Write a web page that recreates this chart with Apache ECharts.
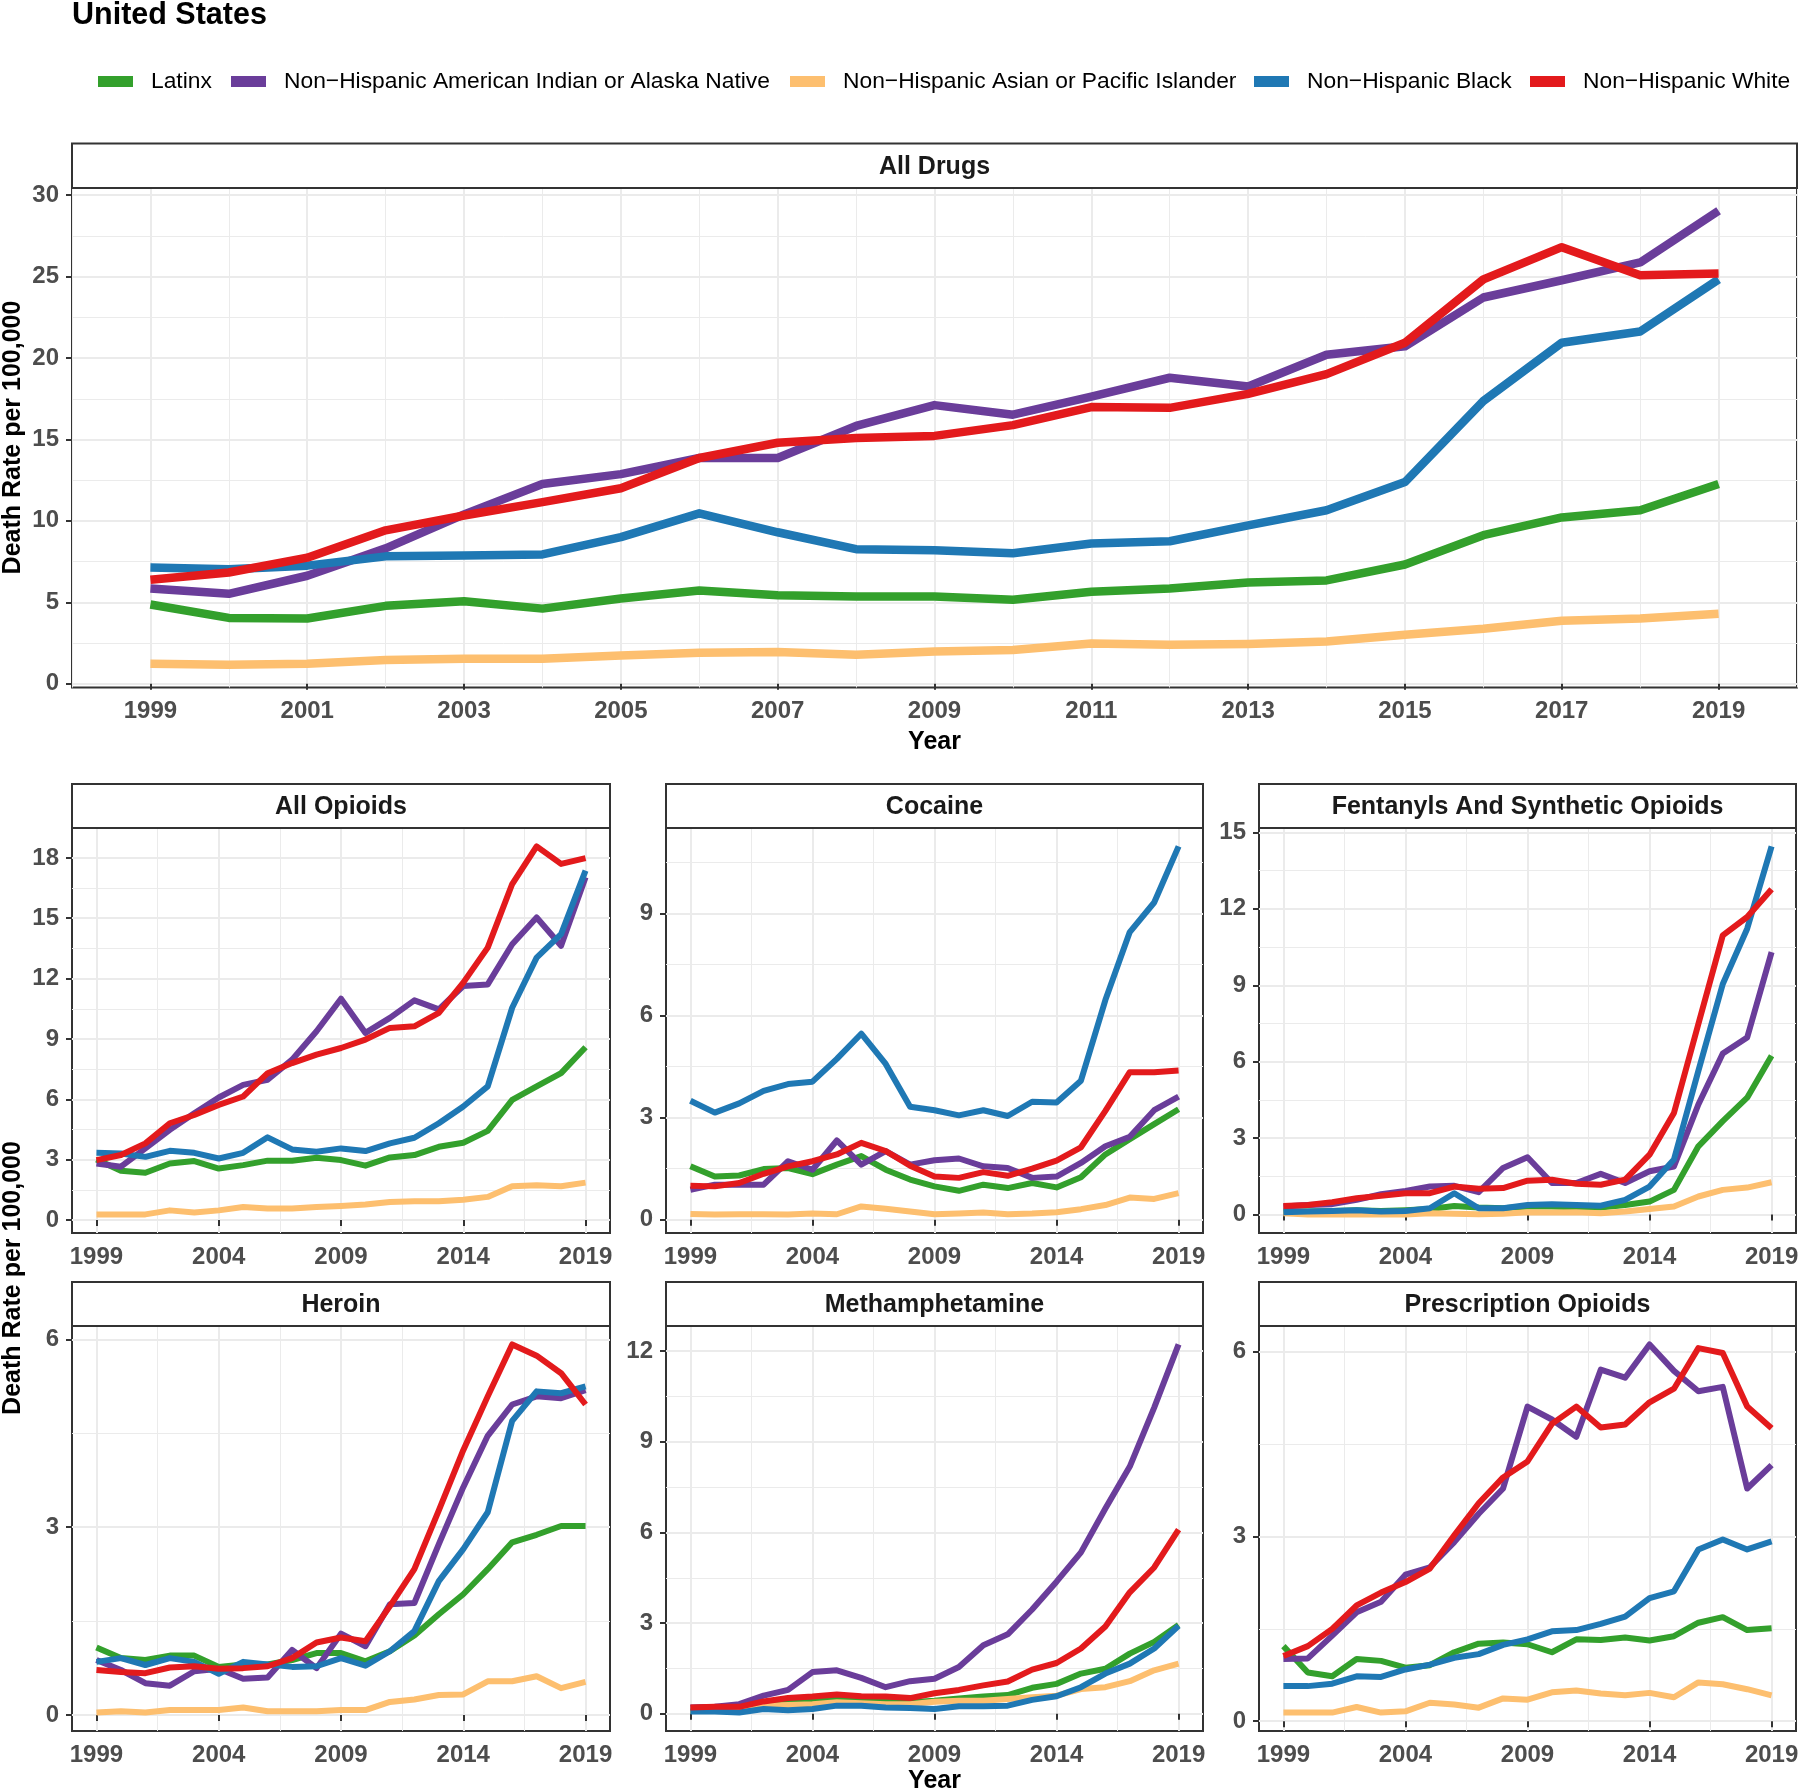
<!DOCTYPE html>
<html>
<head>
<meta charset="utf-8">
<script src="https://cdn.jsdelivr.net/npm/echarts@6/dist/echarts.min.js"></script>
<style>
html,body{margin:0;padding:0;background:#fff;}
#chart{width:1800px;height:1792px;}
</style>
</head>
<body>
<div id="chart"></div>
<script>
// ---------------- DATA ----------------
const years = [1999,2000,2001,2002,2003,2004,2005,2006,2007,2008,2009,2010,2011,2012,2013,2014,2015,2016,2017,2018,2019];
const groups = ['Latinx','Non\u2212Hispanic American Indian or Alaska Native','Non\u2212Hispanic Asian or Pacific Islander','Non\u2212Hispanic Black','Non\u2212Hispanic White'];

const allDrugsLatinx = [4.86,4.04,4.00,4.78,5.06,4.61,5.23,5.72,5.43,5.35,5.35,5.15,5.65,5.84,6.21,6.34,7.32,9.12,10.21,10.65,12.26];
const allDrugsAIAN   = [5.84,5.52,6.63,8.31,10.40,12.26,12.87,13.86,13.86,15.83,17.11,16.52,17.63,18.79,18.25,20.20,20.72,23.72,24.78,25.87,29.05];
const allDrugsAsian  = [1.23,1.16,1.23,1.46,1.53,1.53,1.73,1.90,1.95,1.78,1.97,2.07,2.47,2.39,2.44,2.59,3.01,3.38,3.87,4.00,4.29];
const allDrugsBlack  = [7.13,7.03,7.25,7.82,7.87,7.94,9.00,10.46,9.30,8.26,8.19,8.01,8.61,8.75,9.72,10.65,12.38,17.36,20.94,21.63,24.83];
const allDrugsWhite  = [6.39,6.83,7.74,9.42,10.33,11.15,12.00,13.86,14.80,15.09,15.22,15.88,16.99,16.94,17.80,19.01,20.94,24.83,26.81,25.08,25.20];

const opioidsLatinx = [3.01,2.45,2.35,2.81,2.93,2.56,2.73,2.95,2.95,3.09,2.98,2.70,3.11,3.23,3.64,3.84,4.43,5.97,6.64,7.30,8.59];
const opioidsAIAN   = [2.81,2.65,3.56,4.48,5.31,6.09,6.72,6.97,7.97,9.38,11.00,9.30,10.05,10.92,10.47,11.63,11.71,13.71,15.04,13.63,17.04];
const opioidsAsian  = [0.27,0.28,0.28,0.48,0.37,0.48,0.65,0.57,0.57,0.65,0.70,0.77,0.90,0.93,0.93,1.01,1.15,1.68,1.73,1.68,1.86];
const opioidsBlack  = [3.34,3.31,3.14,3.44,3.34,3.06,3.34,4.11,3.51,3.39,3.56,3.43,3.81,4.09,4.81,5.64,6.64,10.55,13.04,14.21,17.37];
const opioidsWhite  = [2.98,3.23,3.81,4.81,5.22,5.72,6.14,7.30,7.80,8.22,8.55,8.97,9.55,9.63,10.30,11.80,13.54,16.70,18.57,17.70,17.99];

const cocaineLatinx = [1.57,1.27,1.30,1.49,1.52,1.34,1.62,1.87,1.47,1.18,0.98,0.85,1.03,0.93,1.08,0.95,1.25,1.92,2.37,2.81,3.25];
const cocaineAIAN   = [0.88,1.03,1.03,1.03,1.72,1.47,2.33,1.62,2.02,1.62,1.75,1.80,1.57,1.52,1.23,1.27,1.67,2.16,2.44,3.22,3.62];
const cocaineAsian  = [0.17,0.15,0.16,0.16,0.15,0.18,0.16,0.39,0.32,0.24,0.16,0.18,0.21,0.16,0.18,0.22,0.31,0.43,0.65,0.61,0.78];
const cocaineBlack  = [3.50,3.15,3.42,3.79,3.99,4.06,4.73,5.47,4.58,3.32,3.22,3.07,3.22,3.05,3.47,3.45,4.09,6.46,8.46,9.33,10.98];
const cocaineWhite  = [1.00,0.98,1.08,1.35,1.57,1.72,1.92,2.26,2.02,1.59,1.27,1.23,1.40,1.29,1.50,1.74,2.13,3.20,4.34,4.34,4.39];

const fentanylLatinx = [0.12,0.12,0.14,0.17,0.14,0.17,0.22,0.34,0.28,0.25,0.32,0.32,0.28,0.28,0.38,0.51,0.97,2.68,3.67,4.59,6.23];
const fentanylAIAN   = [0.32,0.38,0.41,0.58,0.80,0.93,1.10,1.13,0.88,1.83,2.25,1.24,1.24,1.60,1.24,1.70,1.89,4.32,6.32,6.95,10.30];
const fentanylAsian  = [0.05,0.00,0.00,0.00,0.00,0.00,0.05,0.03,0.01,0.03,0.09,0.08,0.09,0.05,0.12,0.22,0.32,0.71,0.97,1.06,1.27];
const fentanylBlack  = [0.09,0.12,0.14,0.17,0.12,0.14,0.25,0.84,0.25,0.25,0.38,0.41,0.38,0.35,0.58,1.10,2.16,5.64,9.05,11.22,14.45];
const fentanylWhite  = [0.34,0.38,0.49,0.64,0.74,0.84,0.84,1.10,1.01,1.04,1.33,1.37,1.21,1.17,1.37,2.35,3.99,7.48,10.96,11.68,12.77];

const heroinLatinx = [1.08,0.91,0.88,0.95,0.95,0.77,0.81,0.81,0.88,0.99,0.99,0.86,1.02,1.27,1.61,1.93,2.33,2.76,2.88,3.02,3.02];
const heroinAIAN   = [0.88,0.72,0.51,0.47,0.70,0.74,0.58,0.60,1.04,0.75,1.30,1.10,1.77,1.79,2.73,3.64,4.46,4.96,5.09,5.06,5.19];
const heroinAsian  = [0.04,0.06,0.04,0.08,0.08,0.08,0.12,0.06,0.06,0.06,0.08,0.08,0.21,0.25,0.32,0.33,0.54,0.54,0.62,0.43,0.53];
const heroinBlack  = [0.85,0.91,0.80,0.91,0.85,0.66,0.85,0.81,0.77,0.78,0.91,0.79,1.02,1.34,2.14,2.65,3.24,4.70,5.17,5.14,5.25];
const heroinWhite  = [0.72,0.69,0.67,0.76,0.78,0.74,0.75,0.78,0.91,1.16,1.24,1.18,1.74,2.33,3.27,4.23,5.09,5.92,5.74,5.46,4.96];

const methLatinx = [0.10,0.12,0.12,0.32,0.40,0.41,0.49,0.43,0.41,0.38,0.43,0.51,0.57,0.62,0.86,0.99,1.33,1.49,1.99,2.38,2.94];
const methAIAN   = [0.21,0.23,0.32,0.60,0.79,1.38,1.44,1.19,0.88,1.08,1.16,1.55,2.27,2.63,3.45,4.37,5.34,6.79,8.18,10.13,12.22];
const methAsian  = [0.12,0.12,0.12,0.27,0.29,0.32,0.38,0.35,0.32,0.32,0.40,0.43,0.43,0.49,0.55,0.60,0.82,0.88,1.08,1.44,1.66];
const methBlack  = [0.08,0.08,0.04,0.16,0.12,0.16,0.27,0.27,0.21,0.19,0.16,0.25,0.25,0.27,0.46,0.58,0.88,1.33,1.66,2.16,2.91];
const methWhite  = [0.21,0.23,0.23,0.41,0.52,0.57,0.64,0.58,0.57,0.52,0.68,0.79,0.94,1.07,1.46,1.68,2.16,2.89,4.02,4.84,6.09];

const rxLatinx = [1.22,0.79,0.73,1.01,0.98,0.87,0.91,1.12,1.26,1.28,1.25,1.12,1.33,1.32,1.36,1.31,1.38,1.60,1.69,1.48,1.51];
const rxAIAN   = [1.01,1.02,1.39,1.77,1.94,2.38,2.50,2.91,3.37,3.78,5.11,4.90,4.62,5.71,5.58,6.12,5.69,5.36,5.43,3.78,4.16];
const rxAsian  = [0.14,0.14,0.14,0.23,0.14,0.16,0.30,0.27,0.22,0.37,0.35,0.47,0.50,0.45,0.42,0.46,0.39,0.63,0.60,0.52,0.42];
const rxBlack  = [0.57,0.57,0.61,0.73,0.72,0.84,0.92,1.03,1.09,1.24,1.33,1.46,1.48,1.58,1.70,2.00,2.11,2.79,2.95,2.79,2.92];
const rxWhite  = [1.06,1.22,1.50,1.88,2.09,2.26,2.48,3.02,3.54,3.96,4.22,4.83,5.11,4.77,4.82,5.18,5.40,6.06,5.98,5.11,4.76];

// tick labels / breaks
const topXTicks   = [1999,2001,2003,2005,2007,2009,2011,2013,2015,2017,2019];
const topXMinor   = [1998,2000,2002,2004,2006,2008,2010,2012,2014,2016,2018,2020];
const smallXTicks = [1999,2004,2009,2014,2019];
const smallXMinor = [2001.5,2006.5,2011.5,2016.5];
const allDrugsYTicks = [0,5,10,15,20,25,30];
const allDrugsYMinor = [2.5,7.5,12.5,17.5,22.5,27.5];
const opioidsYTicks  = [0,3,6,9,12,15,18];
const opioidsYMinor  = [1.5,4.5,7.5,10.5,13.5,16.5];
const cocaineYTicks  = [0,3,6,9];
const cocaineYMinor  = [1.5,4.5,7.5,10.5];
const fentanylYTicks = [0,3,6,9,12,15];
const fentanylYMinor = [1.5,4.5,7.5,10.5,13.5];
const heroinYTicks   = [0,3,6];
const heroinYMinor   = [1.5,4.5];
const methYTicks     = [0,3,6,9,12];
const methYMinor     = [1.5,4.5,7.5,10.5];
const rxYTicks       = [0,3,6];
const rxYMinor       = [1.5,4.5];

// ---------------- STYLE / LAYOUT ----------------
const colors = ['#33a02c','#6a3d9a','#fdbf6f','#1f78b4','#e31a1c'];
const FONT = "'Liberation Sans', Arial, Helvetica, sans-serif";
const col = [{l:72,w:538},{l:666,w:537},{l:1259,w:537}];
const row = [{t:828,h:405,st:784},{t:1326,h:405,st:1282}];

const panels = [
  {title:'All Drugs', series:[allDrugsLatinx,allDrugsAIAN,allDrugsAsian,allDrugsBlack,allDrugsWhite], yT:allDrugsYTicks, yM:allDrugsYMinor, xT:topXTicks, xM:topXMinor,
   left:72, top:188, width:1725, height:499.5, stripTop:143.5, lw:8.5},
  {title:'All Opioids', series:[opioidsLatinx,opioidsAIAN,opioidsAsian,opioidsBlack,opioidsWhite], yT:opioidsYTicks, yM:opioidsYMinor, xT:smallXTicks, xM:smallXMinor,
   left:col[0].l, top:row[0].t, width:col[0].w, height:row[0].h, stripTop:row[0].st, lw:6},
  {title:'Cocaine', series:[cocaineLatinx,cocaineAIAN,cocaineAsian,cocaineBlack,cocaineWhite], yT:cocaineYTicks, yM:cocaineYMinor, xT:smallXTicks, xM:smallXMinor,
   left:col[1].l, top:row[0].t, width:col[1].w, height:row[0].h, stripTop:row[0].st, lw:6},
  {title:'Fentanyls And Synthetic Opioids', series:[fentanylLatinx,fentanylAIAN,fentanylAsian,fentanylBlack,fentanylWhite], yT:fentanylYTicks, yM:fentanylYMinor, xT:smallXTicks, xM:smallXMinor,
   left:col[2].l, top:row[0].t, width:col[2].w, height:row[0].h, stripTop:row[0].st, lw:6},
  {title:'Heroin', series:[heroinLatinx,heroinAIAN,heroinAsian,heroinBlack,heroinWhite], yT:heroinYTicks, yM:heroinYMinor, xT:smallXTicks, xM:smallXMinor,
   left:col[0].l, top:row[1].t, width:col[0].w, height:row[1].h, stripTop:row[1].st, lw:6},
  {title:'Methamphetamine', series:[methLatinx,methAIAN,methAsian,methBlack,methWhite], yT:methYTicks, yM:methYMinor, xT:smallXTicks, xM:smallXMinor,
   left:col[1].l, top:row[1].t, width:col[1].w, height:row[1].h, stripTop:row[1].st, lw:6},
  {title:'Prescription Opioids', series:[rxLatinx,rxAIAN,rxAsian,rxBlack,rxWhite], yT:rxYTicks, yM:rxYMinor, xT:smallXTicks, xM:smallXMinor,
   left:col[2].l, top:row[1].t, width:col[2].w, height:row[1].h, stripTop:row[1].st, lw:6}
];

function expandLimits(values){
  let lo = Infinity, hi = -Infinity;
  values.forEach(v => { if (v < lo) lo = v; if (v > hi) hi = v; });
  const pad = 0.05 * (hi - lo);
  return [lo - pad, hi + pad];
}

const xLim = expandLimits(years);
const grids = [], xAxes = [], yAxes = [], series = [], graphics = [];
const labelStyle = {fontFamily:FONT, fontSize:24, fontWeight:'bold', color:'#4d4d4d'};

panels.forEach((p, i) => {
  const yLim = expandLimits([].concat(...p.series));
  grids.push({left:p.left, top:p.top, width:p.width, height:p.height, show:true, borderColor:'#333333', borderWidth:2, backgroundColor:'rgba(0,0,0,0)', containLabel:false, outerBoundsMode:'none'});
  // minor x gridlines
  xAxes.push({type:'value', gridIndex:i, min:xLim[0], max:xLim[1], position:'top',
    axisLine:{show:false}, axisTick:{show:false, customValues:p.xM}, axisLabel:{show:false, customValues:p.xM},
    splitLine:{show:true, lineStyle:{color:'#ebebeb', width:1}}, z:1});
  // major x
  xAxes.push({type:'value', gridIndex:i, min:xLim[0], max:xLim[1], position:'bottom',
    axisLine:{show:false}, axisTick:{show:true, customValues:p.xT, length:6, lineStyle:{color:'#333333', width:2}},
    axisLabel:Object.assign({customValues:p.xT, margin:12, formatter:v => String(v)}, labelStyle),
    splitLine:{show:true, lineStyle:{color:'#ebebeb', width:2}}, z:2});
  // minor y gridlines
  yAxes.push({type:'value', gridIndex:i, min:yLim[0], max:yLim[1], position:'right',
    axisLine:{show:false}, axisTick:{show:false, customValues:p.yM}, axisLabel:{show:false, customValues:p.yM},
    splitLine:{show:true, lineStyle:{color:'#ebebeb', width:1}}, z:1});
  // major y
  yAxes.push({type:'value', gridIndex:i, min:yLim[0], max:yLim[1], position:'left',
    axisLine:{show:false}, axisTick:{show:true, customValues:p.yT, length:6, lineStyle:{color:'#333333', width:2}},
    axisLabel:Object.assign({customValues:p.yT, margin:13, formatter:v => String(v)}, labelStyle),
    splitLine:{show:true, lineStyle:{color:'#ebebeb', width:2}}, z:2});

  p.series.forEach((arr, g) => {
    series.push({type:'line', name:groups[g], xAxisIndex:2*i+1, yAxisIndex:2*i+1,
      data: years.map((yr, k) => [yr, arr[k]]),
      showSymbol:false, symbol:'none', silent:true, animation:false,
      emphasis:{disabled:true},
      lineStyle:{width:p.lw, color:colors[g], cap:'butt', join:'round'},
      itemStyle:{color:colors[g]}, z:3 + g});
  });

  // facet strip
  graphics.push({type:'rect', shape:{x:p.left, y:p.stripTop, width:p.width, height:p.top - p.stripTop},
    style:{fill:'#ffffff', stroke:'#333333', lineWidth:2}, z:10});
  graphics.push({type:'text', x:p.left + p.width/2, y:(p.stripTop + p.top)/2 + 1,
    style:{text:p.title, fontFamily:FONT, fontSize:25, fontWeight:'bold', fill:'#1a1a1a', textAlign:'center', textVerticalAlign:'middle'}, z:11});
});

// axis titles
graphics.push({type:'text', x:13, y:437.5, rotation:Math.PI/2,
  style:{text:'Death Rate per 100,000', fontFamily:FONT, fontSize:25, fontWeight:'bold', fill:'#000', textAlign:'center', textVerticalAlign:'middle'}, z:11});
graphics.push({type:'text', x:13, y:1278, rotation:Math.PI/2,
  style:{text:'Death Rate per 100,000', fontFamily:FONT, fontSize:25, fontWeight:'bold', fill:'#000', textAlign:'center', textVerticalAlign:'middle'}, z:11});
graphics.push({type:'text', x:934.5, y:742,
  style:{text:'Year', fontFamily:FONT, fontSize:25, fontWeight:'bold', fill:'#000', textAlign:'center', textVerticalAlign:'middle'}, z:11});
graphics.push({type:'text', x:934.5, y:1781,
  style:{text:'Year', fontFamily:FONT, fontSize:25, fontWeight:'bold', fill:'#000', textAlign:'center', textVerticalAlign:'middle'}, z:11});

const legendLefts = [98, 231, 790, 1254, 1530];
const legends = groups.map((g, k) => ({
  data:[g], left:legendLefts[k], top:70, orient:'horizontal', padding:0, itemGap:0,
  itemWidth:35, itemHeight:11, icon:'rect', selectedMode:false,
  textStyle:{fontFamily:FONT, fontSize:22.8, color:'#000', padding:[0,0,0,13]}
}));

const chart = echarts.init(document.getElementById('chart'), null, {renderer:'canvas'});
chart.setOption({
  animation:false,
  backgroundColor:'#ffffff',
  title:{text:'United States', left:72, top:0, padding:0,
    textStyle:{fontFamily:FONT, fontSize:30.5, fontWeight:'bold', color:'#000'}},
  legend:legends,
  grid:grids,
  xAxis:xAxes,
  yAxis:yAxes,
  series:series,
  graphic:graphics
});
</script>
</body>
</html>
